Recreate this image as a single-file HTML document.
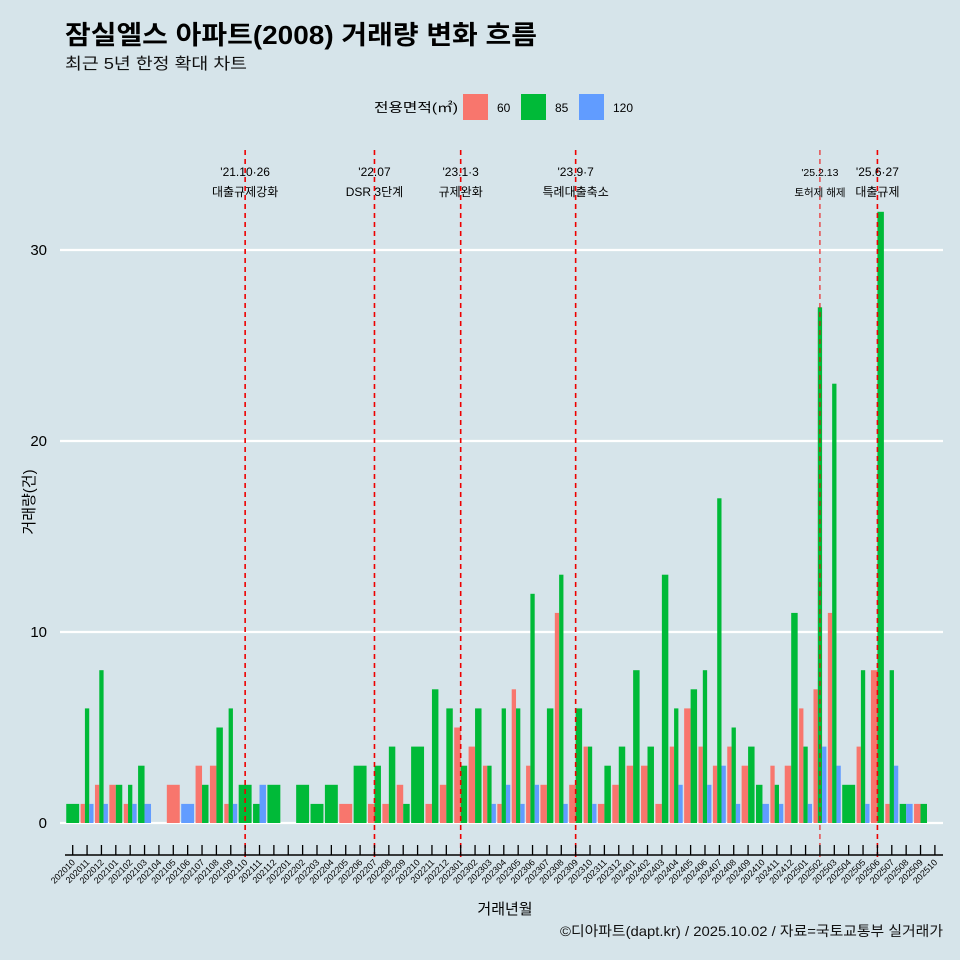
<!DOCTYPE html>
<html><head><meta charset="utf-8"><style>
body{margin:0;background:#d6e4ea;}
svg{display:block;font-family:"Liberation Sans","Noto Sans CJK KR",sans-serif;}
</style></head><body>
<svg id="chart" width="960" height="960" viewBox="0 0 960 960">
<rect width="960" height="960" fill="#d6e4ea"/>
<text x="65" y="44" font-size="26" font-weight="bold" fill="#000" textLength="472" lengthAdjust="spacingAndGlyphs">잠실엘스 아파트(2008) 거래량 변화 흐름</text>
<text x="65" y="69" font-size="16" fill="#111" textLength="182" lengthAdjust="spacingAndGlyphs">최근 5년 한정 확대 차트</text>
<g>
<text x="374" y="112" font-size="13" fill="#000" textLength="84" lengthAdjust="spacingAndGlyphs">전용면적(㎡)</text>
<rect x="463" y="94" width="25" height="26" fill="#f8766d"/>
<text x="497" y="112" font-size="12">60</text>
<rect x="521" y="94" width="25" height="26" fill="#00ba38"/>
<text x="555" y="112" font-size="12">85</text>
<rect x="579" y="94" width="25" height="26" fill="#619cff"/>
<text x="613" y="112" font-size="12">120</text>
</g>
<g id="grid"></g><g id="bars"></g><g id="events"></g><g id="axes"></g>
<text x="505" y="914" font-size="15" text-anchor="middle">거래년월</text>
<text transform="translate(34,502) rotate(-90)" font-size="15" text-anchor="middle">거래량(건)</text>
<text x="943" y="936" font-size="14" text-anchor="end" fill="#111" textLength="383" lengthAdjust="spacingAndGlyphs">©디아파트(dapt.kr) / 2025.10.02 / 자료=국토교통부 실거래가</text>
</svg>
<script>
const months=["202010","202011","202012","202101","202102","202103","202104","202105","202106","202107","202108","202109","202110","202111","202112","202201","202202","202203","202204","202205","202206","202207","202208","202209","202210","202211","202212","202301","202302","202303","202304","202305","202306","202307","202308","202309","202310","202311","202312","202401","202402","202403","202404","202405","202406","202407","202408","202409","202410","202411","202412","202501","202502","202503","202504","202505","202506","202507","202508","202509","202510"];
const s60=[0,1,2,2,1,0,0,2,0,3,3,1,0,0,0,0,0,0,0,1,0,1,1,2,0,1,2,5,4,3,1,7,3,2,11,2,4,1,2,3,3,1,4,6,4,3,4,3,0,3,3,6,7,11,0,4,8,1,0,1,0];
const s85=[1,6,8,2,2,3,0,0,0,2,5,6,2,1,2,0,2,1,2,0,3,3,4,1,4,7,6,3,6,3,6,6,12,6,13,6,4,3,4,8,4,13,6,7,8,17,5,4,2,2,11,4,27,23,2,8,32,8,1,1,0];
const s120=[0,1,1,0,1,1,0,0,1,0,0,1,0,2,0,0,0,0,0,0,0,0,0,0,0,0,0,0,0,1,2,1,2,0,1,0,1,0,0,0,0,0,2,0,2,3,1,0,1,1,0,1,4,3,0,1,0,3,1,0,0];
const yTicks=[0,10,20,30];
const eventMonths=["202110","202207","202301","202309","202502","202506"];
const eventLine1=["'21.10·26","'22.07","'23.1·3","'23.9·7","'25.2.13","'25.6·27"];
const eventLine2=["대출규제강화","DSR 3단계","규제완화","특례대출축소","토허제 해제","대출규제"];
const NS="http://www.w3.org/2000/svg";
const X0=72.7,STEP=14.37,Y0=823,UNIT=19.1;
const xs=i=>X0+i*STEP, ys=v=>Y0-v*UNIT;
function mk(t,a,p){const e=document.createElementNS(NS,t);for(const k in a)e.setAttribute(k,a[k]);p.appendChild(e);return e;}
const grid=document.getElementById('grid');
yTicks.forEach(t=>{
 const l=mk('line',{x1:60,x2:943,y1:ys(t),y2:ys(t),stroke:'#fff','stroke-width':2.2},grid);
 
 
 const tx=mk('text',{x:47,y:ys(t)+5,'font-size':15,'text-anchor':'end'},grid);tx.textContent=t;
 
 
});
const bars=document.getElementById('bars');
const cols=["#f8766d","#00ba38","#619cff"],names=["60","85","120"];
months.forEach((m,i)=>{
 const vals=[s60[i],s85[i],s120[i]];
 const present=[0,1,2].filter(k=>vals[k]>0);
 if(!present.length)return;
 const W=STEP*0.9,w=W/present.length,left=xs(i)-W/2;
 present.forEach((k,j)=>{
  const r=mk('rect',{x:left+j*w,y:ys(vals[k]),width:w,height:vals[k]*UNIT,fill:cols[k]},bars);
  
  
 });
});
const ev=document.getElementById('events');
eventMonths.forEach((m,j)=>{
 const i=months.indexOf(m),x=xs(i);
 const small=m==="202502";
 const l=mk('line',{x1:x,x2:x,y1:150,y2:857,stroke:'#ee0000','stroke-width':small?1:1.6,'stroke-dasharray':'5,4'},ev);
 
 
 const fs=small?10.5:12;
 const t1=mk('text',{x:x,y:176,'font-size':fs,'text-anchor':'middle'},ev);t1.textContent=eventLine1[j];
 
 
 const t2=mk('text',{x:x,y:196,'font-size':fs,'text-anchor':'middle'},ev);t2.textContent=eventLine2[j];
 
 
});
const ax=document.getElementById('axes');
const al=mk('line',{x1:65,x2:943,y1:855,y2:855,stroke:'#000','stroke-width':1.5},ax);


months.forEach((m,i)=>{
 const x=xs(i);
 const tk=mk('line',{x1:x,x2:x,y1:845,y2:855,stroke:'#000','stroke-width':1.3},ax);
 
 
 const t=mk('text',{x:x+3,y:863,'font-size':9,'text-anchor':'end',transform:`rotate(-45 ${x+3} 863)`},ax);t.textContent=m;
 
 
});
</script>
</body></html>
